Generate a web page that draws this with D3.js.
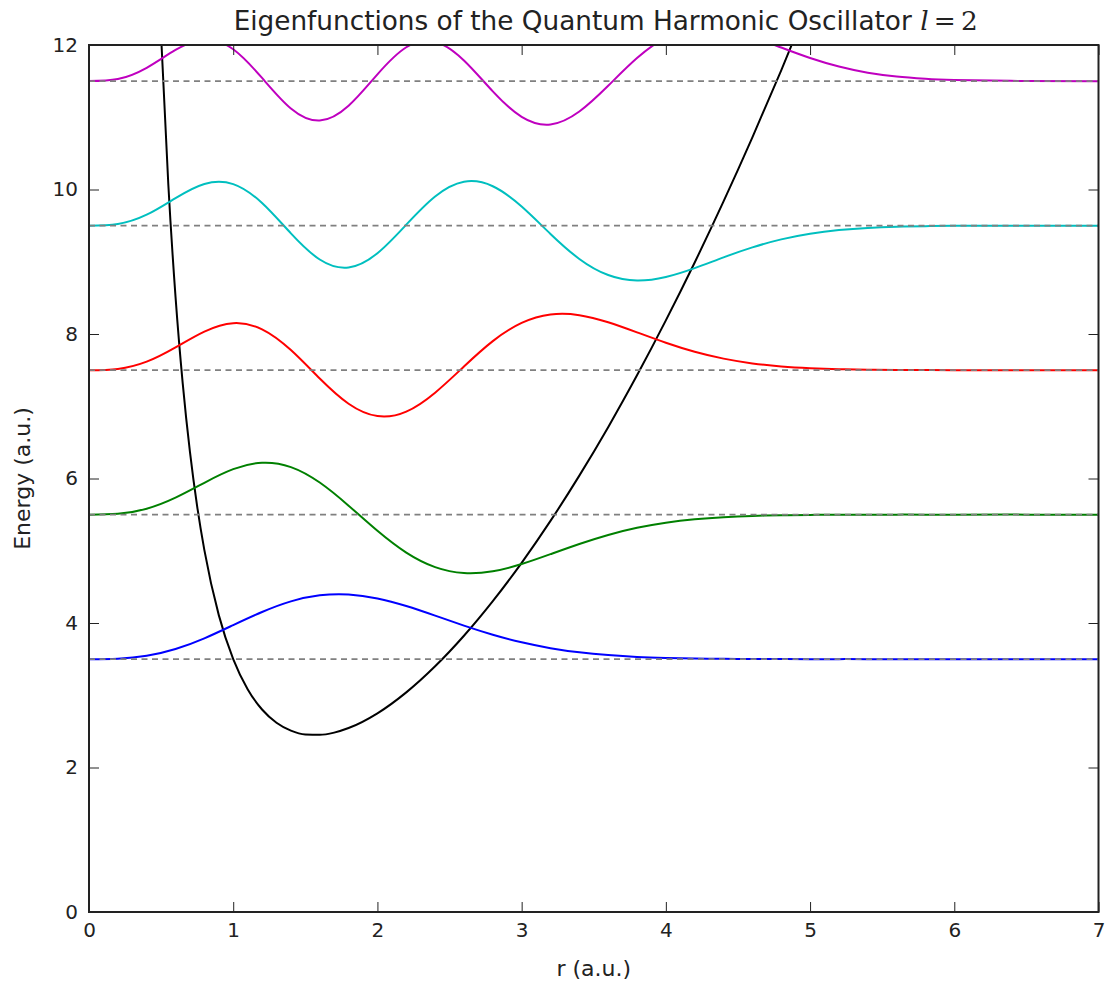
<!DOCTYPE html>
<html>
<head>
<meta charset="utf-8">
<script src="https://cdn.jsdelivr.net/npm/d3@7/dist/d3.min.js"></script>
<style>
  body { margin: 0; background: #fff; }
  svg text { font-family: "DejaVu Sans", sans-serif; fill: #222; }
</style>
</head>
<body>
<svg width="1109" height="983"></svg>
<script>

// pontos em r (a.u.) onde as autofuncoes foram lidas
const r_grid = [0, 0.2, 0.4, 0.6, 0.8, 1.0, 1.2, 1.4, 1.6, 1.8, 2.0, 2.2, 2.4, 2.6, 2.8, 3.0,
                3.2, 3.4, 3.6, 3.8, 4.0, 4.2, 4.4, 4.6, 4.8, 5.0, 5.2, 5.4, 5.6, 5.8, 6.0, 6.5, 7.0];

// niveis de energia (linhas tracejadas)
const energias = [3.5, 5.5, 7.5, 9.5, 11.5];

// autofuncoes ja deslocadas pela energia do nivel
const psi_0 = [3.5, 3.506, 3.546, 3.640, 3.788, 3.971, 4.152, 4.299, 4.383, 4.395, 4.340, 4.235, 4.102, 3.964, 3.838, 3.733,
               3.652, 3.594, 3.556, 3.531, 3.517, 3.508, 3.504, 3.502, 3.501, 3.500, 3.5, 3.5, 3.5, 3.5, 3.5, 3.5, 3.5];
const psi_1 = [5.5, 5.511, 5.582, 5.735, 5.941, 6.129, 6.218, 6.158, 5.944, 5.624, 5.276, 4.974, 4.773, 4.691, 4.716, 4.816,
               4.953, 5.094, 5.219, 5.318, 5.389, 5.436, 5.465, 5.482, 5.491, 5.496, 5.498, 5.499, 5.5, 5.5, 5.5, 5.5, 5.5];
const psi_2 = [7.5, 7.517, 7.617, 7.815, 8.034, 8.150, 8.065, 7.778, 7.384, 7.035, 6.864, 6.926, 7.188, 7.550, 7.901, 8.153,
               8.270, 8.261, 8.163, 8.023, 7.879, 7.754, 7.659, 7.593, 7.551, 7.527, 7.513, 7.506, 7.503, 7.501, 7.500, 7.5, 7.5];
const psi_3 = [9.5, 9.522, 9.651, 9.881, 10.077, 10.075, 9.813, 9.393, 9.031, 8.921, 9.118, 9.513, 9.903, 10.107, 10.045, 9.764,
               9.385, 9.039, 8.816, 8.740, 8.789, 8.912, 9.061, 9.199, 9.310, 9.388, 9.438, 9.468, 9.484, 9.493, 9.497, 9.5, 9.5];
const psi_4 = [11.5, 11.528, 11.684, 11.931, 12.077, 11.941, 11.544, 11.121, 10.954, 11.159, 11.594, 11.969, 12.045, 11.786, 11.358, 11.006,
               10.901, 11.080, 11.436, 11.819, 12.104, 12.236, 12.222, 12.113, 11.965, 11.820, 11.702, 11.617, 11.565, 11.533, 11.516, 11.502, 11.5];

const cores = ["#0000ff", "#008000", "#ff0000", "#00bfbf", "#bf00bf"];

// potencial efetivo (curva preta)
const r_potencial = [0.45, 0.5, 0.55, 0.6, 0.65, 0.7, 0.75, 0.8, 0.9, 1.0, 1.1, 1.2, 1.3, 1.4, 1.5, 1.6, 1.7,
                     1.8, 2.0, 2.2, 2.4, 2.6, 2.8, 3.0, 3.2, 3.4, 3.6, 3.8, 4.0, 4.2, 4.4, 4.6, 4.8, 5.0];
const potencial = [14.916, 12.125, 10.069, 8.513, 7.312, 6.367, 5.615, 5.008, 4.109, 3.5, 3.084, 2.803, 2.620, 2.511, 2.458, 2.452, 2.483,
                   2.546, 2.75, 3.040, 3.401, 3.824, 4.303, 4.833, 5.413, 6.040, 6.711, 7.428, 8.188, 8.990, 9.835, 10.722, 11.650, 12.62];

const ticks_x = [0, 1, 2, 3, 4, 5, 6, 7];
const ticks_y = [0, 2, 4, 6, 8, 10, 12];

const titulo = "Eigenfunctions of the Quantum Harmonic Oscillator ";
const rotulo_x = "r (a.u.)";
const rotulo_y = "Energy (a.u.)";

const vis = {

    dims : {
        esquerda: 89,
        topo: 45,
        largura: 1009.5,
        altura: 867
    },

    escalas : {
        x : null,
        y : null
    },

    monta_escalas : function() {

        this.escalas.x = d3.scaleLinear().domain([0, 7]).range([0, this.dims.largura]);
        this.escalas.y = d3.scaleLinear().domain([0, 12]).range([this.dims.altura, 0]);

    },

    desenha : function() {

        const svg = d3.select("svg");
        const x = this.escalas.x, y = this.escalas.y;
        const W = this.dims.largura, H = this.dims.altura;

        svg.append("defs").append("clipPath").attr("id", "area")
          .append("rect").attr("width", W).attr("height", H);

        const g = svg.append("g")
          .attr("transform", `translate(${this.dims.esquerda},${this.dims.topo})`);

        const plot = g.append("g").attr("clip-path", "url(#area)");

        // potencial
        const linha_pot = d3.line()
          .x((d, i) => x(r_potencial[i]))
          .y(d => y(d))
          .curve(d3.curveMonotoneX);

        plot.append("path")
          .attr("d", linha_pot(potencial))
          .attr("fill", "none")
          .attr("stroke", "#000")
          .attr("stroke-width", 2);

        // autofuncoes
        const linha_psi = d3.line()
          .x((d, i) => x(r_grid[i]))
          .y(d => y(d))
          .curve(d3.curveNatural);

        plot.selectAll(".psi")
          .data([psi_0, psi_1, psi_2, psi_3, psi_4])
          .join("path")
          .attr("class", "psi")
          .attr("d", linha_psi)
          .attr("fill", "none")
          .attr("stroke", (d, i) => cores[i])
          .attr("stroke-width", 2);

        // niveis de energia
        plot.selectAll(".nivel")
          .data(energias)
          .join("line")
          .attr("class", "nivel")
          .attr("x1", x(0)).attr("x2", x(7))
          .attr("y1", d => y(d)).attr("y2", d => y(d))
          .attr("stroke", "#808080")
          .attr("stroke-width", 1.6)
          .attr("stroke-dasharray", "6,4.5");

        // eixos com ticks para dentro
        const fmt = d3.format("d");
        const eixo_base = g.append("g").attr("transform", `translate(0,${H})`)
          .call(d3.axisBottom(x).tickValues(ticks_x).tickFormat(fmt).tickSize(-10).tickPadding(11));
        const eixo_esq = g.append("g")
          .call(d3.axisLeft(y).tickValues(ticks_y).tickFormat(fmt).tickSize(-10).tickPadding(11));
        const eixo_topo = g.append("g")
          .call(d3.axisTop(x).tickValues(ticks_x).tickSize(-10).tickFormat(""));
        const eixo_dir = g.append("g").attr("transform", `translate(${W},0)`)
          .call(d3.axisRight(y).tickValues(ticks_y).tickSize(-10).tickFormat(""));

        [eixo_base, eixo_esq, eixo_topo, eixo_dir].forEach(e => {
            e.select(".domain").remove();
            e.selectAll(".tick line").attr("stroke", "#222").attr("stroke-width", 1);
            e.selectAll(".tick text")
              .attr("font-size", 20)
              .attr("font-family", "DejaVu Sans, sans-serif")
              .attr("fill", "#222");
        });

        g.append("rect")
          .attr("width", W).attr("height", H)
          .attr("fill", "none")
          .attr("stroke", "#222")
          .attr("stroke-width", 2);

        // textos
        const titulo_txt = svg.append("text")
          .attr("x", this.dims.esquerda + W / 2 + 12)
          .attr("y", 30)
          .attr("text-anchor", "middle")
          .attr("font-size", 26.3);
        titulo_txt.append("tspan").text(titulo);
        titulo_txt.append("tspan")
          .attr("font-family", "DejaVu Serif, serif")
          .attr("font-style", "italic")
          .text("l");
        titulo_txt.append("tspan")
          .attr("font-family", "DejaVu Serif, serif")
          .text("\u2009=\u20092");

        svg.append("text")
          .attr("x", this.dims.esquerda + W / 2)
          .attr("y", 976)
          .attr("text-anchor", "middle")
          .attr("font-size", 22)
          .text(rotulo_x);

        svg.append("text")
          .attr("transform", `translate(30,${this.dims.topo + H / 2}) rotate(-90)`)
          .attr("text-anchor", "middle")
          .attr("font-size", 22)
          .text(rotulo_y);

    }

};

vis.monta_escalas();
vis.desenha();

</script>
</body>
</html>
